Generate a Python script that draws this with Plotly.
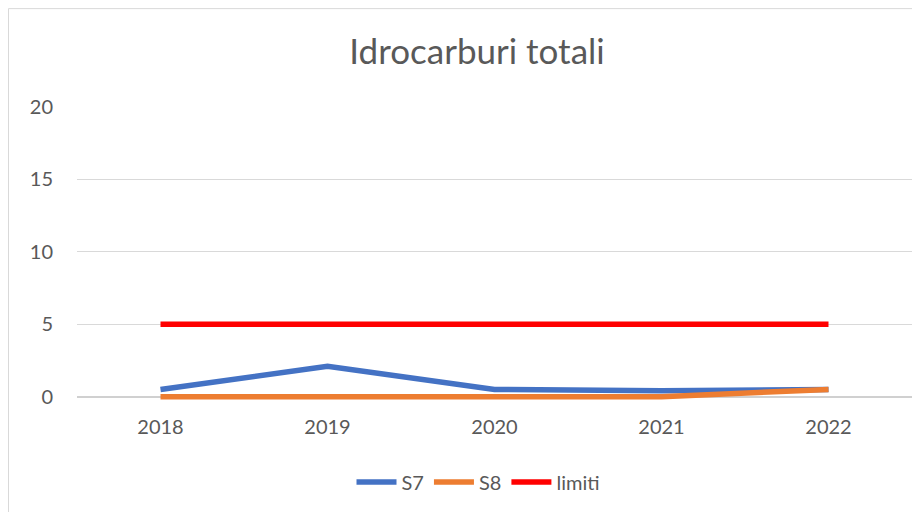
import plotly.graph_objects as go

years = ["2018", "2019", "2020", "2021", "2022"]
s7 = [0.5, 2.1, 0.5, 0.4, 0.5]
s8 = [0.0, 0.0, 0.0, 0.0, 0.5]
limiti = [5, 5, 5, 5, 5]
y_ticks = [0, 5, 10, 15, 20]

FONT = "Lato, Calibri, 'Open Sans', sans-serif"
TXT = "#595959"

fig = go.Figure()
fig.add_trace(go.Scatter(x=years, y=s7, name="S7", mode="lines",
                         line=dict(color="#4472C4", width=5.5)))
fig.add_trace(go.Scatter(x=years, y=s8, name="S8", mode="lines",
                         line=dict(color="#ED7D31", width=5.5)))
fig.add_trace(go.Scatter(x=years, y=limiti, name="limiti", mode="lines",
                         line=dict(color="#FF0000", width=5.5)))

W, H = 912, 504
l, r, t = 69, 8, 99
ymin, ymax = -0.3, 20
ph = (ymax - ymin) * 14.5
b = H - t - ph
pw = W - l - r

fig.update_layout(
    width=W, height=H,
    margin=dict(l=l, r=r, t=t, b=b, pad=0),
    paper_bgcolor="white", plot_bgcolor="white",
    font=dict(family=FONT, color=TXT, size=20),
    title=dict(text="Idrocarburi totali", x=469 / W, xanchor="center", xref="container",
               y=1 - 44 / H, yanchor="middle", yref="container",
               font=dict(size=35, color=TXT, family=FONT)),
    showlegend=True,
    legend=dict(orientation="h", x=470 / W, xanchor="center", xref="container",
                y=1 - 474 / H, yanchor="middle", yref="container",
                font=dict(size=20, color=TXT), traceorder="normal",
                itemwidth=40),
    xaxis=dict(type="category", showgrid=False, showline=False, zeroline=False,
               ticks="", tickfont=dict(size=20, color=TXT), ticklabelstandoff=12,
               range=[-0.5, 4.5]),
    yaxis=dict(range=[ymin, ymax], tickvals=y_ticks, showgrid=True,
               gridcolor="#D9D9D9", gridwidth=1, zeroline=True,
               zerolinecolor="#D0D0D0", zerolinewidth=1.5, showline=False,
               ticks="", tickfont=dict(size=20, color=TXT), ticklabelstandoff=23),
    shapes=[dict(type="rect", xref="paper", yref="paper",
                 x0=(0.5 - l) / pw, x1=(W + 10 - l) / pw,
                 y0=(t + ph - (H + 10)) / ph, y1=1 + (t - 0.5) / ph,
                 line=dict(color="#D9D9D9", width=1), layer="below")],
)

fig.write_html("out.html")
